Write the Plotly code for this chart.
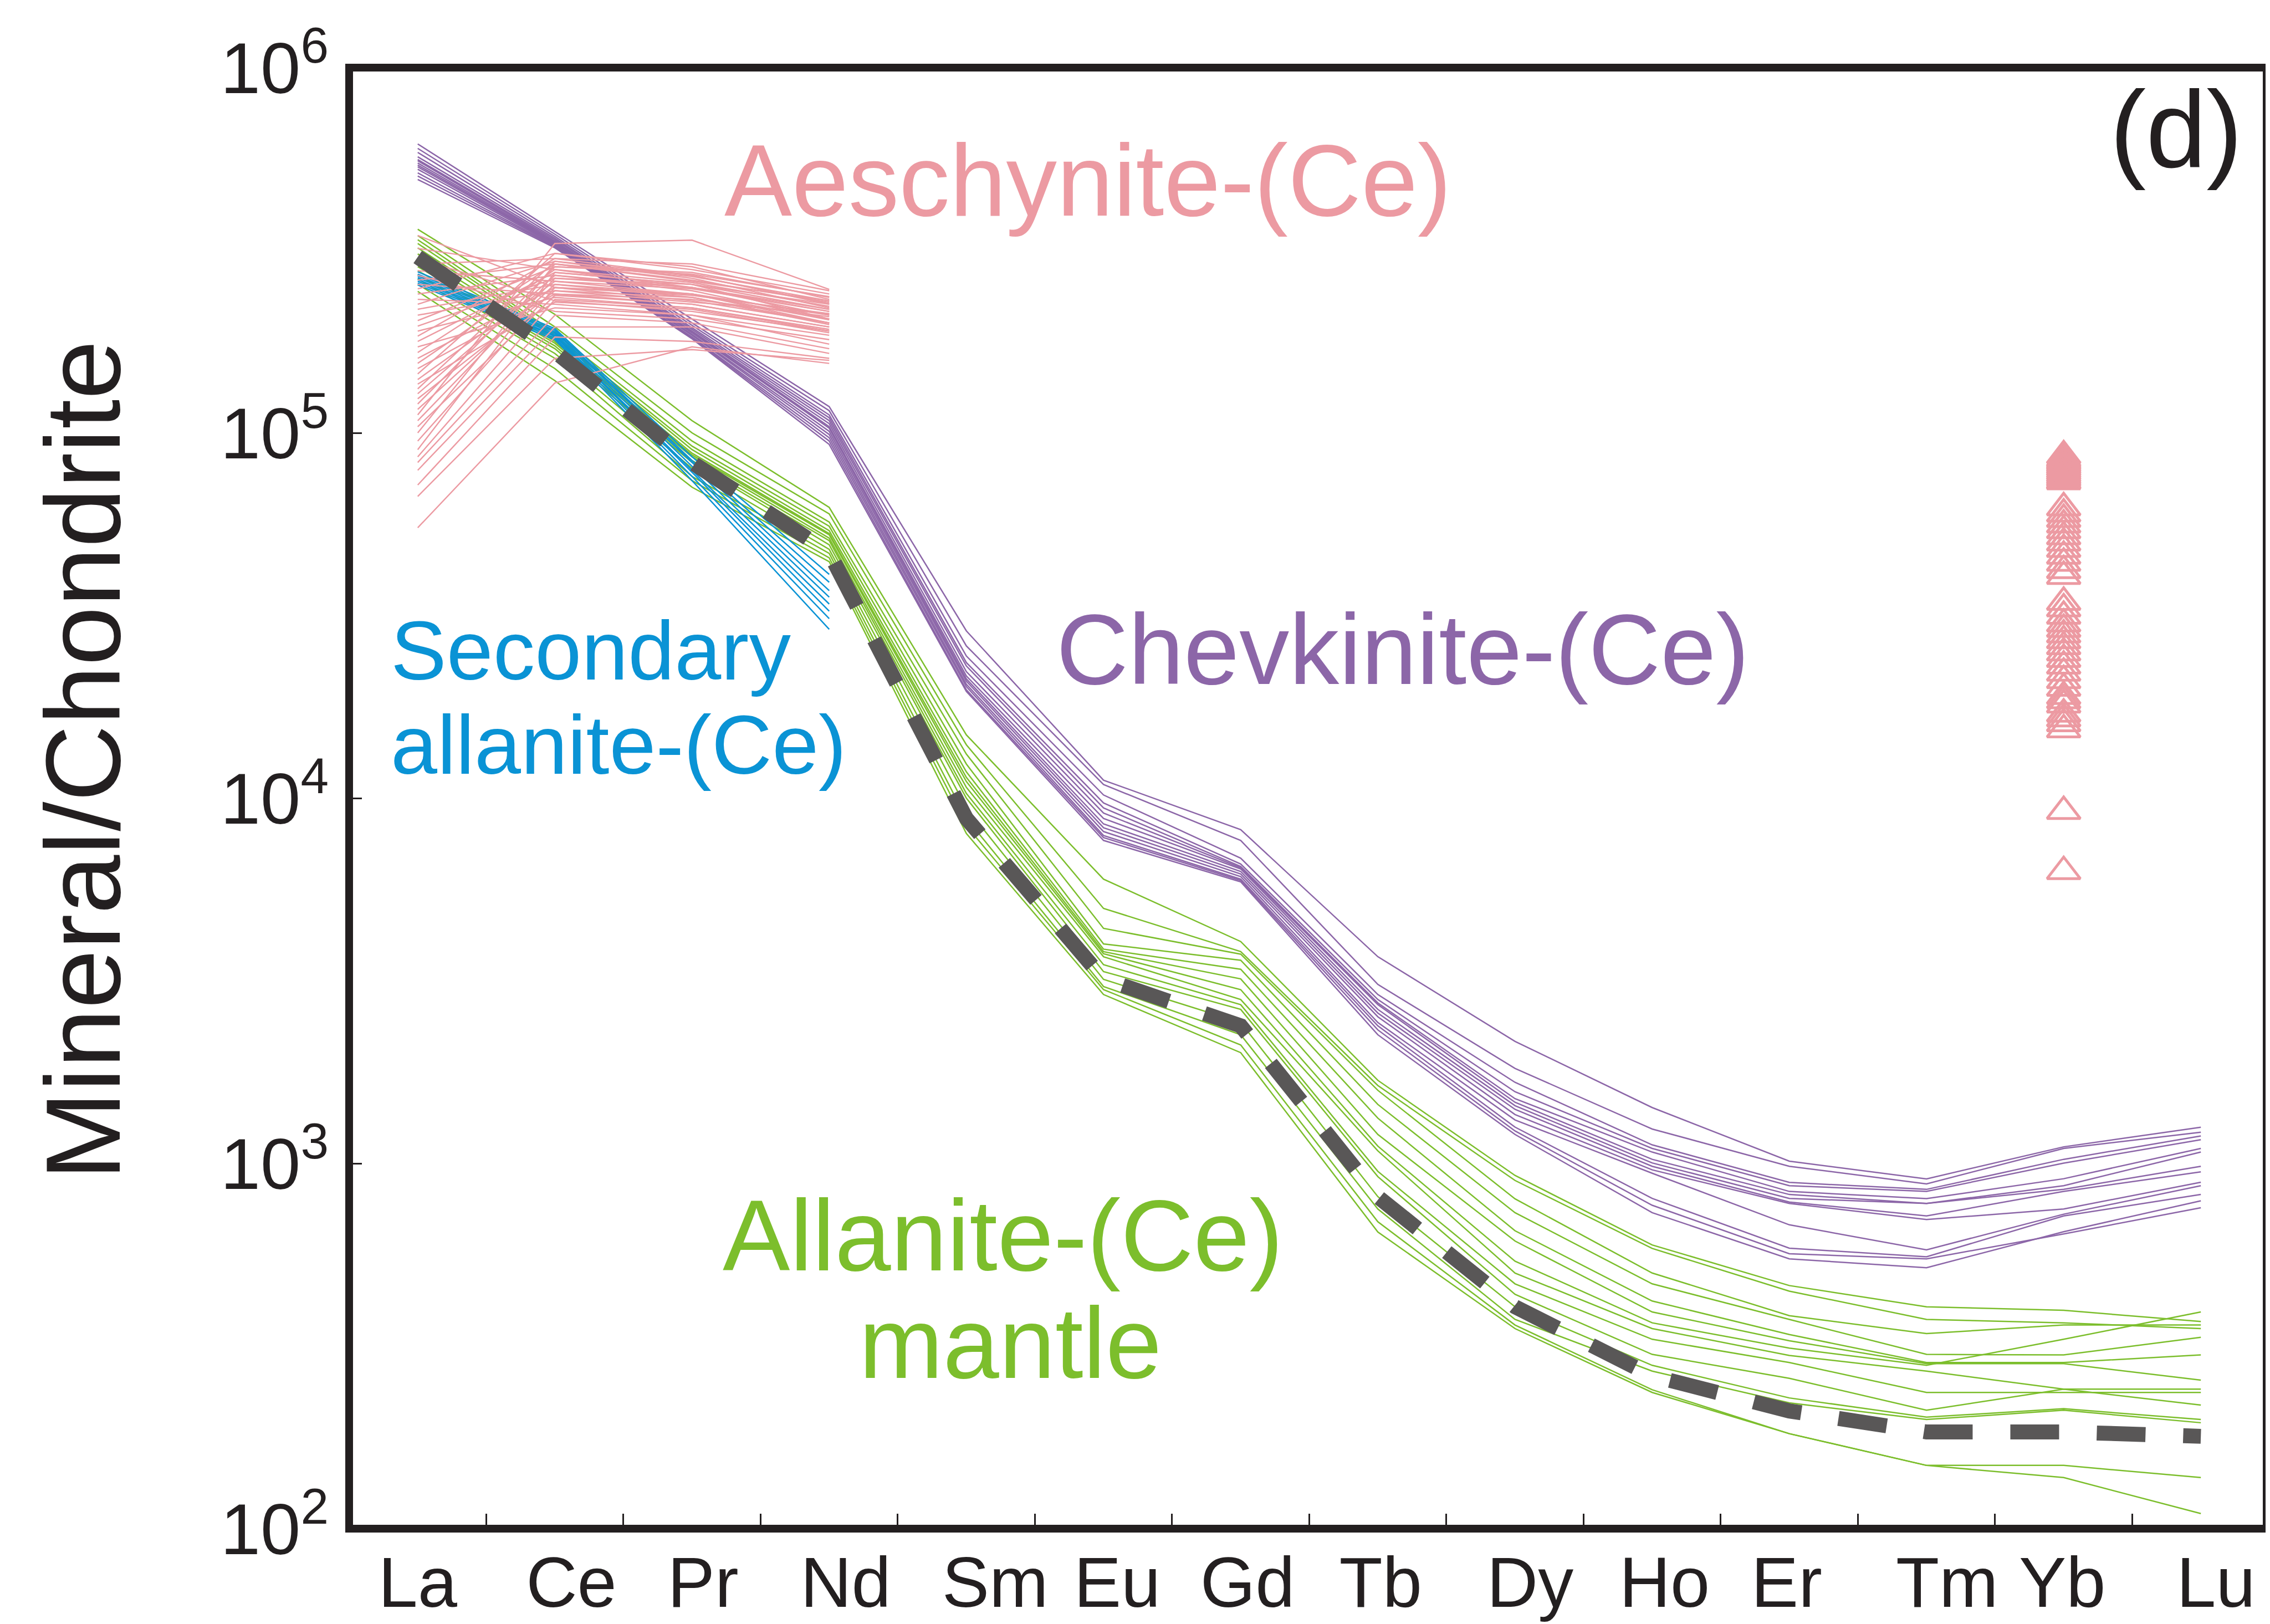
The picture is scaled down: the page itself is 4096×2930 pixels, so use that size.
import plotly.graph_objects as go

# ---------------- data ----------------
ELEMENTS = ["La", "Ce", "Pr", "Nd", "Sm", "Eu", "Gd", "Tb", "Dy", "Ho", "Er", "Tm", "Yb", "Lu"]

# Chevkinite-(Ce), chondrite-normalised, La..Lu
chevkinite = [
    [618e3, 356e3, 205e3, 118e3, 28.7e3, 11.2e3, 8.2e3, 3680, 2158, 1422, 1014, 907, 1110, 1256],
    [601e3, 350e3, 200e3, 115e3, 26.1e3, 10.9e3, 7.66e3, 3090, 1820, 1242, 982, 879, 1099, 1217],
    [586e3, 345e3, 197e3, 112e3, 24.5e3, 10.2e3, 6.85e3, 2900, 1667, 1124, 887, 849, 1026, 1189],
    [570e3, 341e3, 194e3, 110e3, 23.5e3, 9.7e3, 6.6e3, 2810, 1571, 1099, 869, 838, 1002, 1161],
    [560e3, 338e3, 192e3, 108e3, 23.0e3, 9.4e3, 6.5e3, 2750, 1504, 1074, 838, 801, 908, 1099],
    [556e3, 335e3, 190e3, 106e3, 22.2e3, 9.1e3, 6.45e3, 2720, 1470, 1026, 822, 777, 869, 1074],
    [548e3, 333e3, 189e3, 104e3, 21.6e3, 8.8e3, 6.4e3, 2640, 1439, 1003, 802, 777, 849, 982],
    [541e3, 331e3, 188e3, 103e3, 21.2e3, 8.5e3, 6.3e3, 2580, 1406, 982, 784, 718, 838, 948],
    [535e3, 329e3, 186e3, 101e3, 20.9e3, 8.3e3, 6.2e3, 2520, 1361, 960, 777, 702, 750, 888],
    [527e3, 327e3, 185e3, 99e3, 20.5e3, 8.1e3, 6.1e3, 2430, 1315, 940, 679, 580, 726, 869],
    [515e3, 325e3, 183e3, 97e3, 20.2e3, 7.9e3, 6.0e3, 2380, 1257, 802, 586, 555, 718, 822],
    [505e3, 323e3, 182e3, 95e3, 19.8e3, 7.8e3, 5.95e3, 2320, 1227, 768, 566, 548, 641, 756],
    [494e3, 321e3, 181e3, 93e3, 19.6e3, 7.66e3, 5.9e3, 2250, 1200, 733, 548, 518, 650, 790],
]

# Allanite-(Ce) mantle, La..Lu
allanite_mantle = [
    [361e3, 211e3, 108e3, 62.5e3, 14.9e3, 6.0e3, 4.05e3, 1688, 927, 598, 463, 405, 396, 369],
    [347e3, 195e3, 100e3, 60e3, 14.0e3, 4.99e3, 3.8e3, 1634, 898, 585, 447, 374, 366, 353],
    [338e3, 188e3, 95e3, 57e3, 13.2e3, 4.4e3, 3.74e3, 1585, 800, 501, 383, 342, 361, 361],
    [330e3, 185e3, 92e3, 55.5e3, 12.4e3, 3.99e3, 3.6e3, 1450, 733, 468, 374, 300, 299, 334],
    [321e3, 183e3, 90e3, 54e3, 11.8e3, 3.86e3, 3.4e3, 1330, 654, 420, 340, 285, 285, 299],
    [309e3, 180e3, 88e3, 53e3, 11.4e3, 3.8e3, 3.2e3, 1200, 613, 392, 327, 283, 283, 255],
    [300e3, 178e3, 87e3, 52.6e3, 11.1e3, 3.75e3, 2.99e3, 1115, 540, 366, 312, 280, 330, 392],
    [290e3, 176e3, 86e3, 51.5e3, 10.7e3, 3.68e3, 2.81e3, 1082, 501, 353, 298, 270, 241, 241],
    [285e3, 173e3, 84e3, 50.7e3, 10.3e3, 3.5e3, 2.72e3, 951, 468, 330, 285, 236, 236, 236],
    [278e3, 170e3, 83e3, 49.4e3, 10.0e3, 3.35e3, 2.64e3, 920, 438, 300, 258, 211, 241, 218],
    [271e3, 165e3, 80e3, 48e3, 9.4e3, 3.19e3, 2.43e3, 811, 405, 280, 228, 202, 213, 199],
    [264e3, 160e3, 76e3, 46.8e3, 8.8e3, 3.05e3, 2.25e3, 750, 374, 270, 221, 199, 211, 195],
    [255e3, 150e3, 74e3, 45.5e3, 8.4e3, 2.99e3, 2.11e3, 692, 361, 240, 182, 149, 149, 138],
    [244e3, 139e3, 71e3, 44.4e3, 8.0e3, 2.9e3, 2.01e3, 649, 353, 236, 182, 149, 138, 110],
]

# Secondary allanite-(Ce), La..Nd
secondary_allanite = [
    [276e3, 193e3, 86e3, 41e3],
    [272e3, 191e3, 84e3, 39e3],
    [269e3, 189e3, 83e3, 37e3],
    [266e3, 187e3, 81e3, 35.5e3],
    [263e3, 185e3, 79e3, 34e3],
    [260e3, 184e3, 78e3, 32.5e3],
    [257e3, 182e3, 76e3, 31e3],
    [254e3, 180e3, 74e3, 29e3],
]

# Aeschynite-(Ce), La..Nd
aeschynite = [
    [347e3, 250e3, 230e3, 200e3], [320e3, 280e3, 250e3, 215e3], [300e3, 230e3, 215e3, 190e3],
    [290e3, 300e3, 270e3, 225e3], [278e3, 260e3, 240e3, 210e3], [270e3, 215e3, 205e3, 180e3],
    [262e3, 290e3, 260e3, 230e3], [255e3, 240e3, 225e3, 195e3], [248e3, 310e3, 280e3, 240e3],
    [240e3, 270e3, 245e3, 205e3], [232e3, 225e3, 210e3, 185e3], [225e3, 295e3, 265e3, 220e3],
    [218e3, 255e3, 235e3, 200e3], [210e3, 245e3, 228e3, 212e3], [203e3, 285e3, 275e3, 235e3],
    [196e3, 265e3, 250e3, 218e3], [190e3, 235e3, 220e3, 190e3], [184e3, 300e3, 290e3, 245e3],
    [178e3, 275e3, 255e3, 205e3], [172e3, 220e3, 210e3, 175e3], [166e3, 290e3, 262e3, 228e3],
    [160e3, 250e3, 240e3, 200e3], [155e3, 280e3, 258e3, 222e3], [150e3, 240e3, 232e3, 208e3],
    [145e3, 310e3, 285e3, 232e3], [140e3, 260e3, 248e3, 215e3], [136e3, 228e3, 218e3, 188e3],
    [132e3, 295e3, 270e3, 226e3], [128e3, 270e3, 250e3, 210e3], [124e3, 245e3, 235e3, 198e3],
    [120e3, 285e3, 272e3, 236e3], [116e3, 255e3, 240e3, 204e3], [112e3, 330e3, 337e3, 247e3],
    [108e3, 265e3, 255e3, 225e3], [104e3, 238e3, 225e3, 195e3], [100e3, 290e3, 268e3, 230e3],
    [95e3, 250e3, 238e3, 212e3], [90e3, 275e3, 255e3, 218e3], [86e3, 232e3, 220e3, 192e3],
    [83e3, 210e3, 200e3, 170e3], [79e3, 195e3, 195e3, 165e3], [72e3, 183e3, 178e3, 160e3],
    [67e3, 160e3, 169e3, 158e3], [55e3, 137e3, 172e3, 155e3],
]

# Aeschynite-(Ce) Yb values (open triangles)
aeschynite_yb = [
    86.6e3, 85e3, 84e3, 83e3, 82e3, 81e3, 80e3, 79e3, 78e3, 77e3, 76e3, 75e3, 74e3, 73.5e3,
    62.4e3, 60e3, 58e3, 56e3, 54e3, 52e3, 50e3, 48e3, 46e3, 44e3, 42e3, 40.5e3,
    34.4e3, 33e3, 31.5e3, 30e3, 29e3, 28e3, 27e3, 26e3, 25e3, 24e3, 23e3, 22e3, 21e3,
    20e3, 19e3, 18.5e3, 18e3, 17e3, 16.5e3, 16e3, 15.4e3,
    9.2e3, 6.3e3,
]

# reference (dashed) pattern, La..Lu
reference_line = [303e3, 167e3, 83e3, 47e3, 8.8e3, 3.2e3, 2.38e3, 810, 405, 262, 210, 184, 184, 179]

Y_TICKS = [1e2, 1e3, 1e4, 1e5, 1e6]
Y_TICKTEXT = ["10<sup>2</sup>", "10<sup>3</sup>", "10<sup>4</sup>", "10<sup>5</sup>", "10<sup>6</sup>"]

# ---------------- style ----------------
PINK = "#EC9AA2"
PURPLE = "#8C66A8"
BLUE = "#0A93D5"
GREEN = "#7CBE2C"
DARK = "#595757"
BLACK = "#231F20"
FONT = "Liberation Sans, Arial, Helvetica, sans-serif"
LABEL_POS = [0, 1.12, 2.08, 3.12, 4.21, 5.10, 6.05, 7.02, 8.11, 9.09, 9.98, 11.15, 11.99, 13.11]

fig = go.Figure()


def add_lines(rows, color, width):
    for row in rows:
        fig.add_trace(go.Scatter(
            x=list(range(len(row))), y=row, mode="lines",
            line=dict(color=color, width=width),
            hoverinfo="skip", showlegend=False))


add_lines(chevkinite, PURPLE, 2.5)
add_lines(allanite_mantle, GREEN, 2.5)
add_lines(secondary_allanite, BLUE, 2.5)
add_lines(aeschynite, PINK, 2.4)

fig.add_trace(go.Scatter(
    x=list(range(len(reference_line))), y=reference_line, mode="lines",
    line=dict(color=DARK, width=27, dash="88px,68px"),
    hoverinfo="skip", showlegend=False))

yb_idx = ELEMENTS.index("Yb")
fig.add_trace(go.Scatter(
    x=[yb_idx] * len(aeschynite_yb), y=aeschynite_yb, mode="markers",
    marker=dict(symbol="triangle-up-open", size=52, color=PINK,
                line=dict(color=PINK, width=5)),
    hoverinfo="skip", showlegend=False))

fig.update_layout(
    width=4096, height=2930,
    margin=dict(l=622, r=14, t=114, b=172),
    paper_bgcolor="white", plot_bgcolor="white",
    font=dict(family=FONT, color=BLACK),
    showlegend=False,
    xaxis=dict(
        range=[-0.5, 13.48], showgrid=False, zeroline=False, showline=False,
        tickmode="array", tickvals=LABEL_POS, ticktext=ELEMENTS, ticks="",
        ticklabelstandoff=12,
        tickfont=dict(size=128, family=FONT, color=BLACK),
        minor=dict(tickmode="array", tickvals=[i + 0.5 for i in range(13)],
                   ticks="inside", ticklen=27, tickwidth=3, tickcolor=BLACK, showgrid=False),
    ),
    yaxis=dict(
        type="log", range=[2, 6], showgrid=False, zeroline=False, showline=False,
        tickmode="array", tickvals=Y_TICKS, ticktext=Y_TICKTEXT,
        ticks="inside", ticklen=23, tickwidth=3, tickcolor=BLACK,
        ticklabelstandoff=36,
        tickfont=dict(size=130, family=FONT, color=BLACK),
    ),
    shapes=[dict(type="rect", xref="paper", yref="paper", x0=0, x1=1, y0=0, y1=1,
                 line=dict(color=BLACK, width=14), fillcolor="rgba(0,0,0,0)", layer="above")],
)

ann = [
    dict(text="Aeschynite-(Ce)", x=4.884, y=5.691, xanchor="center", color=PINK, size=183),
    dict(text="Chevkinite-(Ce)", x=7.181, y=4.407, xanchor="center", color=PURPLE, size=180),
    dict(text="Secondary", x=-0.204, y=4.405, xanchor="left", color=BLUE, size=151),
    dict(text="allanite-(Ce)", x=-0.204, y=4.146, xanchor="left", color=BLUE, size=151),
    dict(text="Allanite-(Ce)", x=4.266, y=2.803, xanchor="center", color=GREEN, size=182),
    dict(text="mantle", x=4.319, y=2.508, xanchor="center", color=GREEN, size=182),
    dict(text="(d)", x=12.82, y=5.83, xanchor="center", color=BLACK, size=196),
]
for a in ann:
    fig.add_annotation(text=a["text"], x=a["x"], y=a["y"], xref="x", yref="y",
                       xanchor=a["xanchor"], yanchor="middle", showarrow=False,
                       font=dict(family=FONT, size=a["size"], color=a["color"]))

fig.add_annotation(text="Mineral/Chondrite", xref="paper", yref="paper",
                   x=-0.139, y=0.5257, xanchor="center", yanchor="middle",
                   textangle=-90, showarrow=False,
                   font=dict(family=FONT, size=192, color=BLACK))

fig.write_html("out.html")
